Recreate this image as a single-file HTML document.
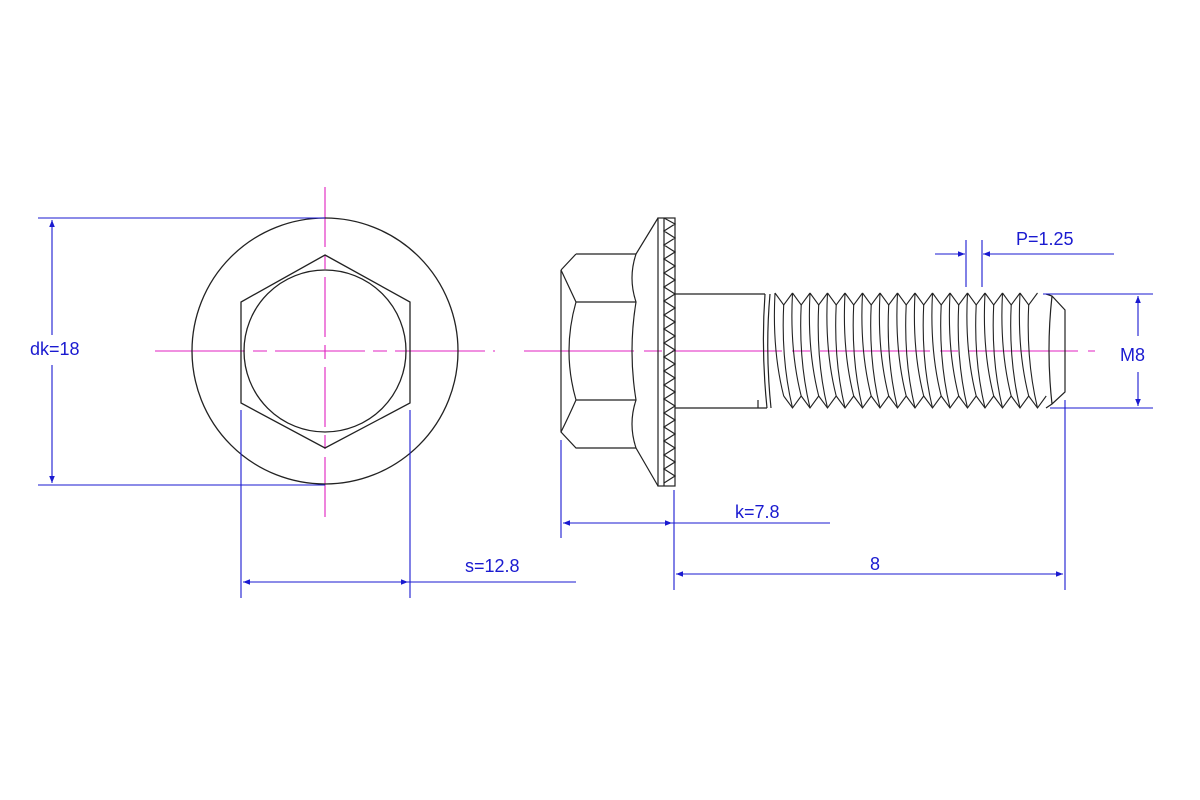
<!DOCTYPE html>
<html><head><meta charset="utf-8"><style>
body{margin:0;background:#fff}
svg{display:block}
text{font-family:"Liberation Sans",sans-serif;font-size:18px;fill:#1a1ad0}
</style></head><body>
<svg width="1200" height="800" viewBox="0 0 1200 800" xmlns="http://www.w3.org/2000/svg">
<defs>
<marker id="a" viewBox="0 0 10 10" refX="10" refY="5" markerWidth="14" markerHeight="7" markerUnits="userSpaceOnUse" orient="auto-start-reverse"><path d="M0,1 L10,5 L0,9z" fill="#1a1ad0"/></marker>
<g id="th" fill="none" stroke="#222" stroke-width="1.1">
<path d="M0,293 L8.7,305 L17.5,293"/>
<path d="M8.7,396 L17.5,408 L26.2,396"/>
<path d="M0,293 Q-3,350 8.7,396"/>
<path d="M8.7,305 Q6,360 17.5,408"/>
</g>
</defs>
<g stroke="#e020c0" stroke-width="1.1" fill="none">
<line x1="325" y1="187" x2="325" y2="522" stroke-dasharray="60,8,14,8"/>
<line x1="155" y1="351" x2="495" y2="351" stroke-dasharray="90,8,14,8"/>
<line x1="524" y1="351" x2="1095" y2="351" stroke-dasharray="110,10,18,10"/>
</g>
<g fill="none" stroke="#222" stroke-width="1.3">
<circle cx="325" cy="351" r="133"/>
<circle cx="325" cy="351" r="81"/>
<polygon points="325,255 410,302 410,403 325,448 241,403 241,302"/>
</g>
<g fill="none" stroke="#222" stroke-width="1.2">
<path d="M576,254 L636,254 M561,270 L576,254 M561,270 L561,432 L576,448 L636,448"/>
<path d="M561,270 Q568,285 576,302 L636,302 M576,302 Q562,351 576,400 L636,400 M576,400 Q568,418 561,432"/>
<path d="M658,218 L636,254 Q628,278 636,302 Q628,351 636,400 Q628,424 636,448 L658,486"/>
<rect x="658" y="218" width="17" height="268"/>
<line x1="664" y1="218" x2="664" y2="486"/>
<path d="M664,218 L675,224 L664,231 L675,238 L664,245 L675,252 L664,259 L675,266 L664,273 L675,280 L664,287 L675,294 L664,301 L675,308 L664,315 L675,322 L664,329 L675,336 L664,343 L675,350 L664,357 L675,364 L664,371 L675,378 L664,385 L675,392 L664,399 L675,406 L664,413 L675,420 L664,427 L675,434 L664,441 L675,448 L664,455 L675,462 L664,469 L675,476 L664,483"/>
<path d="M675,294 L765,294 M675,408 L767,408"/>
<path d="M765,294 Q761,350 767,408 M770,294 Q765,350 771,408 M758,400 L758,408"/>
<path d="M1046,294 L1052,296 L1065,310 L1065,392 L1052,404 L1046,408"/>
<path d="M1052,296 Q1046,350 1052,404"/>
</g>
<g>
<use href="#th" x="775"/><use href="#th" x="792.5"/><use href="#th" x="810"/><use href="#th" x="827.5"/>
<use href="#th" x="845"/><use href="#th" x="862.5"/><use href="#th" x="880"/><use href="#th" x="897.5"/>
<use href="#th" x="915"/><use href="#th" x="932.5"/><use href="#th" x="950"/><use href="#th" x="967.5"/>
<use href="#th" x="985"/><use href="#th" x="1002.5"/><use href="#th" x="1020"/>
</g>
<g stroke="#1a1ad0" stroke-width="1.1" fill="none">
<line x1="38" y1="218" x2="325" y2="218"/><line x1="38" y1="485" x2="325" y2="485"/>
<line x1="52" y1="220" x2="52" y2="335" marker-end="url(#a)" transform="rotate(180 52 277.5)"/>
<line x1="52" y1="365" x2="52" y2="483" marker-end="url(#a)"/>
<line x1="241" y1="410" x2="241" y2="598"/><line x1="410" y1="410" x2="410" y2="598"/>
<line x1="243" y1="582" x2="408" y2="582" marker-start="url(#a)" marker-end="url(#a)"/>
<line x1="408" y1="582" x2="576" y2="582"/>
<line x1="561" y1="440" x2="561" y2="538"/><line x1="674" y1="490" x2="674" y2="590"/>
<line x1="563" y1="523" x2="672" y2="523" marker-start="url(#a)" marker-end="url(#a)"/>
<line x1="672" y1="523" x2="830" y2="523"/>
<line x1="1065" y1="400" x2="1065" y2="590"/>
<line x1="676" y1="574" x2="1063" y2="574" marker-start="url(#a)" marker-end="url(#a)"/>
<line x1="1043" y1="294" x2="1153" y2="294"/><line x1="1050" y1="408" x2="1153" y2="408"/>
<line x1="1138" y1="336" x2="1138" y2="296" marker-end="url(#a)"/>
<line x1="1138" y1="372" x2="1138" y2="406" marker-end="url(#a)"/>
<line x1="966" y1="240" x2="966" y2="287"/><line x1="982" y1="240" x2="982" y2="287"/>
<line x1="935" y1="254" x2="965" y2="254" marker-end="url(#a)"/>
<line x1="1114" y1="254" x2="983" y2="254" marker-end="url(#a)"/>
</g>
<text x="30" y="355">dk=18</text>
<text x="465" y="572">s=12.8</text>
<text x="735" y="518">k=7.8</text>
<text x="870" y="570">8</text>
<text x="1120" y="361">M8</text>
<text x="1016" y="245">P=1.25</text>
</svg>
</body></html>
